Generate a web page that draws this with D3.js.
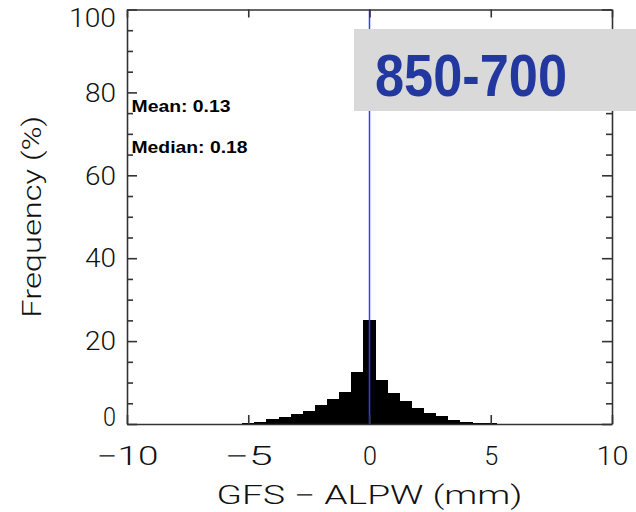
<!DOCTYPE html>
<html lang="en">
<head>
<meta charset="utf-8">
<title>GFS - ALPW histogram</title>
<script src="https://cdn.jsdelivr.net/npm/d3@7"></script>
<style>
  body { margin: 0; background: #fff; }
  text { font-family: "Liberation Sans", Arial, sans-serif; }
  .thin { font-family: "DejaVu Sans ExtraLight", "Roboto Light", Roboto, "Liberation Sans", sans-serif; font-weight: 200; }
</style>
</head>
<body>
<script>
// bin centres (mm) and frequency (%)
var binCenters = [-5.0, -4.5, -4.0, -3.5, -3.0, -2.5, -2.0, -1.5, -1.0, -0.5,
                  0.0, 0.5, 1.0, 1.5, 2.0, 2.5, 3.0, 3.5, 4.0, 4.5, 5.0];
var freq = [0.3, 0.6, 1.2, 1.8, 2.3, 3.2, 4.6, 6.0, 7.8, 12.6,
            25.0, 10.6, 7.4, 5.5, 3.8, 2.65, 1.85, 1.0, 0.55, 0.3, 0.15];
var binWidth = 0.5;
var xTicks = [-10, -5, 0, 5, 10];
var yTicks = [0, 20, 40, 60, 80, 100];
var yMinorTicks = [5, 10, 15, 25, 30, 35, 45, 50, 55, 65, 70, 75, 85, 90, 95];
var statLines = ["Mean:  0.13", "Median:  0.18"];
var meanLine = 0;
var title = "850-700";

var W = 636, H = 512;
// plot frame ("top" is taken on window, so px*)
var pxLeft = 127, pxRight = 612, pxTop = 9.5, pxBottom = 424;

var svg = d3.select("body").append("svg")
    .attr("width", W)
    .attr("height", H);

var x = d3.scaleLinear().domain([-10, 10]).range([pxLeft, pxRight]);
var y = d3.scaleLinear().domain([0, 100]).range([pxBottom, pxTop]);

// bars
svg.append("g").selectAll("rect")
    .data(binCenters)
    .enter()
    .append("rect")
    .attr("x", function (d) { return x(d - binWidth / 2); })
    .attr("width", function (d) { return x(d + binWidth / 2) - x(d - binWidth / 2); })
    .attr("y", function (d, i) { return y(freq[i]); })
    .attr("height", function (d, i) { return pxBottom - y(freq[i]); })
    .attr("fill", "#000")
    .attr("shape-rendering", "crispEdges");

// blue line at zero
svg.append("line")
    .attr("x1", x(meanLine)).attr("x2", x(meanLine))
    .attr("y1", pxTop).attr("y2", pxBottom)
    .attr("stroke", "#3a3aff")
    .attr("stroke-width", 1.5);

function styleAxis(g) {
    g.selectAll("path, line").attr("stroke", "#333").attr("stroke-width", 1.6);
    g.selectAll("text").attr("font-family", null).attr("class", "thin")
        .attr("font-size", 25).attr("fill", "#111");
}

// left axis
var gl = svg.append("g").attr("transform", "translate(" + pxLeft + ",0)")
    .call(d3.axisLeft(y).tickValues(yTicks).tickSizeInner(-10).tickSizeOuter(0).tickPadding(11));
styleAxis(gl);
gl.selectAll(".tick text")
    .attr("textLength", function (d) { return d === 100 ? 47 : (d === 0 ? 13 : 31); })
    .attr("lengthAdjust", "spacingAndGlyphs")
    .attr("dy", function (d) { return d === 100 ? "0.68em" : (d === 0 ? "0.05em" : "0.35em"); });
svg.append("g").attr("transform", "translate(" + pxLeft + ",0)")
    .call(d3.axisLeft(y).tickValues(yMinorTicks).tickSize(-6).tickFormat(""))
    .call(styleAxis)
    .select(".domain").remove();

// right axis
svg.append("g").attr("transform", "translate(" + pxRight + ",0)")
    .call(d3.axisRight(y).tickValues(yTicks).tickSizeInner(-10).tickSizeOuter(0).tickFormat(""))
    .call(styleAxis);
svg.append("g").attr("transform", "translate(" + pxRight + ",0)")
    .call(d3.axisRight(y).tickValues(yMinorTicks).tickSize(-6).tickFormat(""))
    .call(styleAxis)
    .select(".domain").remove();

// bottom axis
var gb = svg.append("g").attr("transform", "translate(0," + pxBottom + ")")
    .call(d3.axisBottom(x).tickValues(xTicks).tickSizeInner(-9).tickSizeOuter(0)
        .tickPadding(23).tickFormat(function (d) { return d < 0 ? "\u2212" + Math.abs(d) : d; }));
styleAxis(gb);
gb.selectAll(".tick text")
    .attr("textLength", function (d) { return d === -10 ? 62 : (d === -5 ? 48 : (d === 10 ? 32 : 14)); })
    .attr("lengthAdjust", "spacingAndGlyphs");

// top axis
svg.append("g").attr("transform", "translate(0," + pxTop + ")")
    .call(d3.axisTop(x).tickValues(xTicks).tickSizeInner(-8).tickSizeOuter(0).tickFormat(""))
    .call(styleAxis);

// axis titles
svg.append("text")
    .attr("class", "thin")
    .attr("x", (pxLeft + pxRight) / 2)
    .attr("y", 504)
    .attr("text-anchor", "middle")
    .attr("font-size", 25)
    .attr("fill", "#111")
    .attr("textLength", 306)
    .attr("lengthAdjust", "spacingAndGlyphs")
    .text("GFS \u2212 ALPW (mm)");

svg.append("text")
    .attr("class", "thin")
    .attr("transform", "translate(41," + (pxTop + pxBottom) / 2 + ") rotate(-90)")
    .attr("text-anchor", "middle")
    .attr("font-size", 25)
    .attr("fill", "#111")
    .attr("textLength", 202)
    .attr("lengthAdjust", "spacingAndGlyphs")
    .text("Frequency (%)");

// stats
svg.selectAll(".stat")
    .data(statLines)
    .enter()
    .append("text")
    .attr("class", "stat")
    .attr("x", 131.5)
    .attr("y", function (d, i) { return 111.5 + i * 41.8; })
    .attr("font-size", 16)
    .attr("font-weight", "bold")
    .attr("fill", "#000")
    .attr("textLength", function (d, i) { return i === 0 ? 99 : 116; })
    .attr("lengthAdjust", "spacingAndGlyphs")
    .text(function (d) { return d; });

// title box
svg.append("rect")
    .attr("x", 354).attr("y", 29)
    .attr("width", W - 354).attr("height", 82)
    .attr("fill", "#d9d9d9");
svg.append("text")
    .attr("x", 375)
    .attr("y", 96)
    .attr("font-size", 59)
    .attr("font-weight", "bold")
    .attr("fill", "#22389e")
    .attr("textLength", 192)
    .attr("lengthAdjust", "spacingAndGlyphs")
    .text(title);
</script>
</body>
</html>
